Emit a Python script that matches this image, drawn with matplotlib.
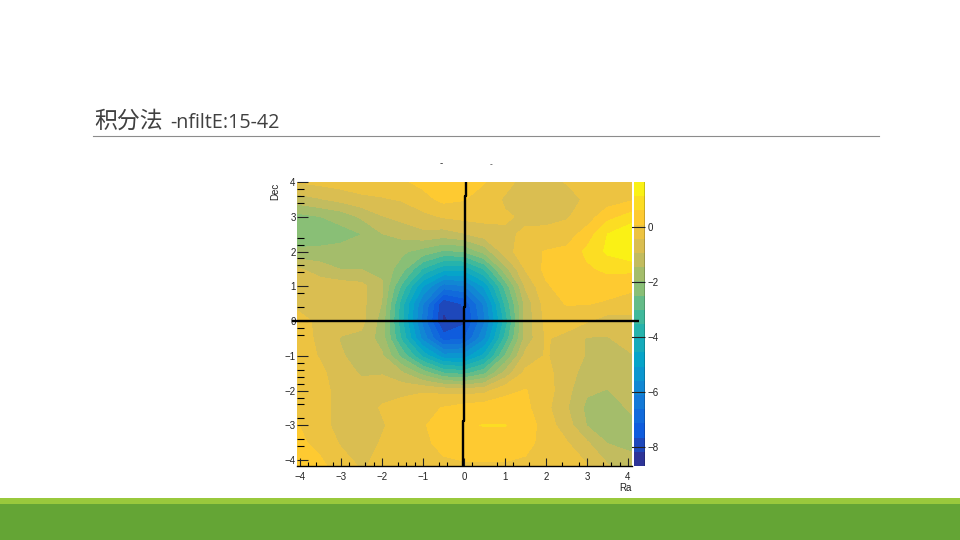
import matplotlib
matplotlib.use('Agg')
from matplotlib import pyplot as plt
from matplotlib.colors import LinearSegmentedColormap
import numpy as np

title_cjk = '积分法'
title_rest = '-nfiltE:15-42'

# grid positions, the outer ones stretch to the edge of the frame
ra = [-4.07, -3.5, -3, -2.5, -2, -1.5, -1, -0.5, 0, 0.5, 1, 1.5, 2, 2.5, 3, 3.5, 4.1]
dec = [4, 3.5, 3, 2.5, 2, 1.5, 1, 0.5, 0, -0.5, -1, -1.5, -2, -2.5, -3, -3.5, -4.17]

# values, top row first
values = [
    [-0.4, -0.3, -0.2, -0.1, -0.1, 0.0, 0.2, 0.45, 0.45, 0.1, -0.3, -0.6, -0.7, -0.4, -0.2, -0.2, -0.1],
    [-1.2, -1.0, -0.8, -0.6, -0.5, -0.4, -0.1, 0.2, 0.1, -0.2, -0.5, -0.9, -0.95, -0.8, -0.3, -0.2, 0.0],
    [-2.2, -2.0, -1.8, -1.4, -1.0, -0.8, -0.6, -0.4, -0.3, -0.3, -0.4, -0.5, -0.6, -0.5, -0.2, 0.4, 0.8],
    [-2.3, -2.2, -2.2, -2.0, -1.5, -1.3, -1.1, -1.2, -1.0, -0.7, -0.5, -0.4, -0.3, -0.2, 0.3, 1.1, 1.6],
    [-1.9, -1.9, -1.8, -1.7, -1.9, -1.9, -2.2, -2.6, -2.5, -1.8, -0.7, -0.1, 0.1, 0.2, 0.7, 1.2, 1.6],
    [-0.9, -1.2, -1.5, -1.5, -1.6, -2.3, -3.6, -4.4, -4.4, -3.5, -1.7, -0.4, 0.2, 0.4, 0.5, 0.7, 0.7],
    [-0.6, -0.7, -0.7, -0.8, -1.4, -3.2, -5.1, -6.4, -6.2, -5.0, -2.9, -0.9, 0.0, 0.3, 0.3, 0.3, 0.2],
    [-0.6, -0.6, -0.6, -0.8, -1.5, -3.9, -6.1, -8.1, -7.6, -6.0, -3.5, -1.3, -0.2, 0.1, 0.1, 0.0, -0.2],
    [-0.2, -0.6, -0.7, -0.8, -1.7, -4.0, -6.3, -8.3, -7.8, -6.2, -3.9, -1.3, -0.3, -0.2, -0.4, -0.7, -0.6],
    [-0.1, -0.6, -1.0, -1.1, -1.7, -3.7, -5.8, -7.4, -7.2, -5.7, -3.4, -1.3, -0.4, -0.6, -1.0, -1.0, -0.7],
    [-0.1, -0.5, -0.9, -1.2, -1.4, -2.7, -4.2, -5.4, -5.4, -4.4, -2.5, -0.8, -0.4, -0.7, -1.0, -1.1, -1.0],
    [0.0, -0.3, -0.8, -1.0, -1.0, -1.4, -2.2, -3.0, -3.2, -2.6, -1.3, -0.3, -0.3, -0.7, -1.2, -1.2, -1.0],
    [0.0, -0.3, -0.6, -0.8, -0.6, -0.6, -0.5, -0.6, -0.7, -0.6, -0.1, 0.1, -0.2, -0.8, -1.4, -1.5, -1.2],
    [0.0, -0.3, -0.6, -0.7, -0.4, -0.2, -0.1, 0.1, 0.3, 0.4, 0.4, 0.2, -0.3, -0.9, -1.6, -1.7, -1.4],
    [0.1, -0.2, -0.7, -0.8, -0.5, -0.2, 0.0, 0.4, 0.55, 0.6, 0.6, 0.4, -0.2, -0.7, -1.5, -1.8, -1.6],
    [0.2, -0.1, -0.5, -0.7, -0.4, -0.2, -0.1, 0.3, 0.35, 0.4, 0.4, 0.3, -0.2, -0.4, -0.9, -1.5, -1.6],
    [0.3, 0.2, -0.2, -0.5, -0.3, -0.2, -0.1, -0.1, 0.0, 0.0, 0.0, -0.1, -0.1, -0.2, -0.4, -0.9, -1.3],
]

z_min = -8.7
z_max = 1.62
n_levels = 20

# ROOT bird palette stops
bird = [(0.2082, 0.1664, 0.5293), (0.0592, 0.3599, 0.8684), (0.0780, 0.5041, 0.8385),
        (0.0232, 0.6419, 0.7914), (0.1802, 0.7178, 0.6425), (0.5301, 0.7492, 0.4662),
        (0.8186, 0.7328, 0.3499), (0.9956, 0.7862, 0.1968), (0.9764, 0.9832, 0.0539)]

ra_major = [-4, -3, -2, -1, 0, 1, 2, 3, 4]
ra_minor = [-3.8, -3.6, -3.2, -2.8, -2.4, -2.2, -1.6, -1.4, -1.2, -0.6, -0.4,
            0.2, 0.8, 1.2, 1.6, 2.4, 2.8, 3.4, 3.6, 3.8]
dec_major = [-4, -3, -2, -1, 0, 1, 2, 3, 4]
dec_minor = [3.8, 3.6, 3.4, 2.4, 2.2, 1.8, 1.6, 1.4, 0.8, 0.4, -0.2, -0.4,
             -1.2, -1.4, -1.6, -1.8, -2.2, -2.4, -2.8, -3.4, -3.6]
bar_ticks = [0, -2, -4, -6, -8]

# hand drawn cross on top of the map
cross_h_ra = [-4.18, 4.28]
cross_h_dec = [0, 0]
cross_v_ra = [0.05, 0.05, 0.03, 0.03, 0.0, 0.0, -0.03, -0.03]
cross_v_dec = [4.0, 3.6, 3.6, 0.4, 0.4, -2.87, -2.87, -4.17]

W, H = 960, 540
plt.rcParams['font.family'] = ['Liberation Sans', 'DejaVu Sans']
fig = plt.figure(figsize=(W / 100, H / 100), dpi=100, facecolor='white')

def px_axes(left, top, right, bottom):
    return fig.add_axes([left / W, 1 - bottom / H, (right - left) / W, (bottom - top) / H])

# slide furniture
fig.patches.append(plt.Rectangle((0, 0), 1, 36 / H, transform=fig.transFigure, color='#64a535', lw=0))
fig.patches.append(plt.Rectangle((0, 36 / H), 1, 6 / H, transform=fig.transFigure, color='#99c93c', lw=0))
fig.add_artist(plt.Line2D([93 / W, 879 / W], [1 - 136.2 / H] * 2, color='#8c8c8c', lw=0.8))
fig.text(94 / W, 1 - 128 / H, title_cjk, fontsize=16.5, color='#404040', family=['Noto Sans CJK SC', 'DejaVu Sans'], va='baseline')
fig.text(170 / W, 1 - 128 / H, title_rest, fontsize=14.2, color='#404040', family='Open Sans', va='baseline')

# bits of the cropped title
fig.text(441 / W, 1 - 166 / H, '-', fontsize=7, color='#222222', ha='center', va='baseline')
fig.text(491 / W, 1 - 166 / H, '-', fontsize=6, color='#222222', ha='center', va='baseline')

cmap = LinearSegmentedColormap.from_list('bird', bird)
levels = np.linspace(z_min, z_max, n_levels + 1)

ax = px_axes(297, 182, 632, 466)
ax.set_zorder(3)
cs = ax.contourf(ra, dec, np.array(values), levels=levels, cmap=cmap, antialiased=False)
ax.set_xlim(-4.07, 4.1)
ax.set_ylim(-4.17, 4.0)
for s in ['top', 'right', 'left']:
    ax.spines[s].set_visible(False)
ax.spines['bottom'].set_linewidth(1.0)
ax.set_xticks(ra_major)
ax.set_xticks(ra_minor, minor=True)
ax.set_yticks(dec_major)
ax.set_yticks(dec_minor, minor=True)
ax.set_xticklabels([str(v).replace('-', '\u2212') for v in ra_major])
ax.set_yticklabels([str(v).replace('-', '\u2212') for v in dec_major])
ax.tick_params(axis='x', which='major', direction='in', length=6, width=0.8, labelsize=7, pad=4, colors='#222222')
ax.tick_params(axis='x', which='minor', direction='in', length=3, width=0.8)
ax.tick_params(axis='y', which='major', direction='in', length=8, width=0.8, labelsize=7, pad=1, left=True, colors='#222222')
ax.tick_params(axis='y', which='minor', direction='in', length=5, width=0.8)
ax.plot(cross_h_ra, cross_h_dec, color='black', lw=1.7, clip_on=False, solid_capstyle='butt')
ax.plot(cross_v_ra, cross_v_dec, color='black', lw=1.7, clip_on=False, solid_capstyle='butt')

fig.text(632 / W, 1 - 491 / H, 'Ra', fontsize=7, color='#222222', ha='right', va='baseline')
fig.text(275 / W, 1 - 183 / H, 'Dec', fontsize=7, color='#222222', rotation=90, ha='center', va='top')

cax = px_axes(634, 182, 645, 466)
cb = fig.colorbar(cs, cax=cax, ticks=bar_ticks)
cb.outline.set_visible(False)
cax.set_yticklabels([str(v).replace('-', '\u2212') for v in bar_ticks])
cax.tick_params(axis='y', which='major', direction='in', length=10, width=0.8, labelsize=7, pad=2, right=True, colors='#222222')
cax.minorticks_off()
cax.add_artist(plt.Line2D([1, 1], [0, 1], transform=cax.transAxes, color='black', lw=1.0))

fig.savefig('out.png', dpi=100)
